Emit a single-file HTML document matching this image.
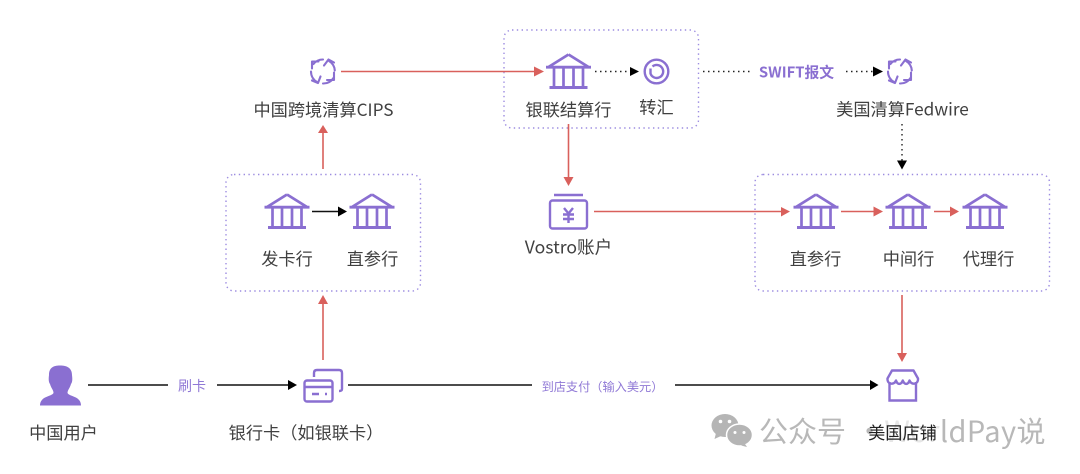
<!DOCTYPE html>
<html><head><meta charset="utf-8"><style>
html,body{margin:0;padding:0;background:#fff;width:1080px;height:474px;overflow:hidden}
svg{display:block}
text{font-family:"Liberation Sans","Noto Sans CJK SC",sans-serif}
.t{font-family:"Noto Sans CJK SC","Liberation Sans",sans-serif;font-size:17.2px;fill:#404040;text-anchor:middle;dominant-baseline:central;transform:translateY(-.7px)}
.box{fill:none;stroke:#9c8ce0;stroke-width:1.4;stroke-dasharray:1.4 3.4}
.red{stroke:#d9605c;stroke-width:1.6;fill:none}
.blk{stroke:#111;stroke-width:1.5;fill:none}
.dot{stroke:#222;stroke-width:1.4;fill:none;stroke-dasharray:1.5 3.5}
.ic{stroke:#8a6fd1;fill:none;stroke-width:2.4}
</style></head><body>
<svg width="1080" height="474" viewBox="0 0 1080 474" xmlns="http://www.w3.org/2000/svg">
<defs>
<g id="bank" class="ic">
<path d="M-22.500 13.700H22.500M0 1L-20 13.500M0 1L20 13.500" stroke-width="2.800"/>
<path d="M-14.500 13V33M-5 13V33M5 13V33M14.500 13V33" stroke-width="2.700"/>
<path d="M-19 34H19" stroke-width="3"/>
</g>
<g id="cyc" class="ic">
<g stroke-width="2.100" stroke-linecap="round" stroke-linejoin="round">
<path d="M0 -12A12 12 0 0 0 -9.500 -7.500"/>
<path d="M-11 -3L-11 -10L-4.500 -10"/>
<path d="M11.800 -1A12 12 0 0 0 6 -10.500"/>
<path d="M1 -6L5.500 -12L11 -9"/>
<path d="M0 12A12 12 0 0 0 10.500 6.500"/>
<path d="M11 1L11 8.500L4 8.500"/>
<path d="M-12 0A12 12 0 0 0 -6 10.500"/>
<path d="M-11 9L-5 11.500L-2.500 5"/>
</g>
</g>
</defs>

<rect class="box" x="226" y="174.500" width="194.500" height="116.500" rx="8"/>
<rect class="box" x="504" y="30" width="194.500" height="98" rx="8"/>
<rect class="box" x="755" y="174.500" width="294.500" height="116.500" rx="8"/>

<use href="#bank" x="287" y="193.500"/>
<use href="#bank" x="372" y="193.500"/>
<use href="#bank" x="568.500" y="53.500"/>
<use href="#bank" x="816" y="193.500"/>
<use href="#bank" x="908" y="193.500"/>
<use href="#bank" x="985" y="193.500"/>

<use href="#cyc" x="323" y="71.500"/>
<use href="#cyc" x="900" y="71.500"/>

<circle cx="656.500" cy="71.500" r="11.800" class="ic"/>
<path d="M652.500 66.500A6.500 6.500 0 1 1 650.500 73.500L650.500 68.500" class="ic" stroke-width="2"/>

<!-- red arrows -->
<path class="red" d="M341 71.500H535"/><path d="M534 66.500L544 71.500L534 76.500Z" fill="#d9605c"/>
<path class="red" d="M568.500 124V178"/><path d="M563.500 177H573.500L568.500 186Z" fill="#d9605c"/>
<path class="red" d="M594 211.500H783"/><path d="M781 207L790 211.500L781 216.500Z" fill="#d9605c"/>
<path class="red" d="M841 211.500H875"/><path d="M873.500 206.500L883 211.500L873.500 216.500Z" fill="#d9605c"/>
<path class="red" d="M934 211.500H951"/><path d="M950 206.500L959 211.500L950 216.500Z" fill="#d9605c"/>
<path class="red" d="M323 169V132"/><path d="M318 133H328L323 125Z" fill="#d9605c"/>
<path class="red" d="M323 360V303"/><path d="M318 304H328L323 295Z" fill="#d9605c"/>
<path class="red" d="M902 295V354"/><path d="M897 353H907L902 362Z" fill="#d9605c"/>

<!-- black arrows -->
<path class="blk" d="M312 211.500H339"/><path d="M338 206.500L347 211.500L338 216.500Z" fill="#000"/>
<path class="blk" d="M88 385H168M217 385H289"/><path d="M288 380L297 385L288 390Z" fill="#000"/>
<path class="blk" d="M348 385H532M675 385H871"/><path d="M870 380L878.500 385L870 390Z" fill="#000"/>
<path class="dot" d="M595 71.500H630"/><path d="M630 67L639 71.500L630 76Z" fill="#000"/>
<path class="dot" d="M703 71.500H750"/>
<path class="dot" d="M846 71.500H874"/><path d="M873 66.500L883 71.500L873 76.500Z" fill="#000"/>
<path class="dot" d="M902 124V161"/><path d="M897 160.500H907L902 169.500Z" fill="#000"/>

<!-- vostro -->
<path d="M554 195H583" class="ic" stroke-width="2.400"/>
<rect x="550" y="200.500" width="37" height="28" rx="2.500" class="ic" stroke-width="2.600"/>
<path d="M564 208L568.500 213.500L573 208M563 214.500H574M563 219H574M568.500 213.500V223" class="ic" stroke-width="2.200"/>

<!-- user -->
<path d="M60 365.500C67 365.500 72 368 72 375C72.500 379 72.500 382 71 384C70 388 67.500 390 67.500 393C69 396 76 396 79 400C81 402 81 405 81 405.500H40C40 405 40 402 42 400C45 396 52 396 53.500 393C53.500 390 51 388 50 384C48.500 382 48.500 379 49 375C49 368 53 365.500 60 365.500Z" fill="#8a6fd1"/>

<!-- card -->
<path d="M314 377V373Q314 370 317 370H339Q342 370 342 373V389Q342 391 339 391" class="ic"/>
<rect x="304.500" y="380.500" width="28" height="21" rx="2.500" class="ic"/>
<path d="M304.500 387H332.500" class="ic" stroke-width="2"/>
<path d="M312 394H319M325 394H327" class="ic" stroke-width="2"/>

<!-- store -->
<path d="M889.500 382V400.500H916V382" class="ic"/>
<path d="M892 370.500H913.500L918 378.500C918.500 384.500 911.500 385.500 909.500 380.500C908 385 904.500 385 902.800 380.500C901 385 897.500 385 896 380.500C894 385.500 887 384.500 887.500 378.500Z" class="ic" stroke-linejoin="round"/>

<!-- watermark -->
<ellipse cx="725" cy="425.500" rx="13.500" ry="11.500" fill="#b5b5b5"/>
<path d="M716 433L714.500 439L721 436Z" fill="#b5b5b5"/>
<ellipse cx="739.500" cy="435" rx="13" ry="11" fill="#b5b5b5" stroke="#fff" stroke-width="1.500"/>
<path d="M745 444L747 447L741 445.500Z" fill="#b5b5b5"/>
<circle cx="720.500" cy="421.500" r="1.800" fill="#fff"/><circle cx="729.500" cy="421.500" r="1.800" fill="#fff"/>
<circle cx="735" cy="432.500" r="1.500" fill="#fff"/><circle cx="744" cy="432.500" r="1.500" fill="#fff"/>
<text x="759" y="430" font-size="29" fill="#b8b8b8" style="font-family:'Noto Sans CJK SC',sans-serif;dominant-baseline:central">公众号</text>
<text x="855" y="430" font-size="29" fill="#b8b8b8" style="font-family:'Noto Sans CJK SC',sans-serif;dominant-baseline:central;letter-spacing:.4px">·<tspan fill="#e6e6e6">Wor</tspan>ldPay说</text>

<!-- labels -->
<text class="t" x="323.500" y="109">中国跨境清算CIPS</text>
<text class="t" x="568.500" y="109">银联结算行</text>
<text class="t" x="656.500" y="106.500">转汇</text>
<text class="t" x="902.500" y="108.500">美国清算Fedwire</text>
<text class="t" x="287" y="258">发卡行</text>
<text class="t" x="372.500" y="258">直参行</text>
<text class="t" x="568.500" y="247.500" style="font-size:17.6px">Vostro账户</text>
<text class="t" x="815.500" y="258">直参行</text>
<text class="t" x="908.500" y="258">中间行</text>
<text class="t" x="988.500" y="258">代理行</text>
<text class="t" x="63.500" y="432">中国用户</text>
<text class="t" x="306" y="432">银行卡（如银联卡）</text>
<text class="t" x="902.500" y="432" style="fill:#222">美国店铺</text>

<text x="192" y="386" font-size="14" fill="#9079d6" text-anchor="middle" dominant-baseline="central" style="font-family:'Noto Sans CJK SC',sans-serif">刷卡</text>
<text x="602.500" y="386" font-size="12.200" fill="#9079d6" text-anchor="middle" dominant-baseline="central" style="font-family:'Noto Sans CJK SC',sans-serif">到店支付（输入美元）</text>
<text x="796.500" y="72" font-size="14.800" font-weight="700" fill="#8a6fd1" text-anchor="middle" dominant-baseline="central" style="font-family:'Noto Sans CJK SC',sans-serif">SWIFT报文</text>
</svg>
</body></html>
